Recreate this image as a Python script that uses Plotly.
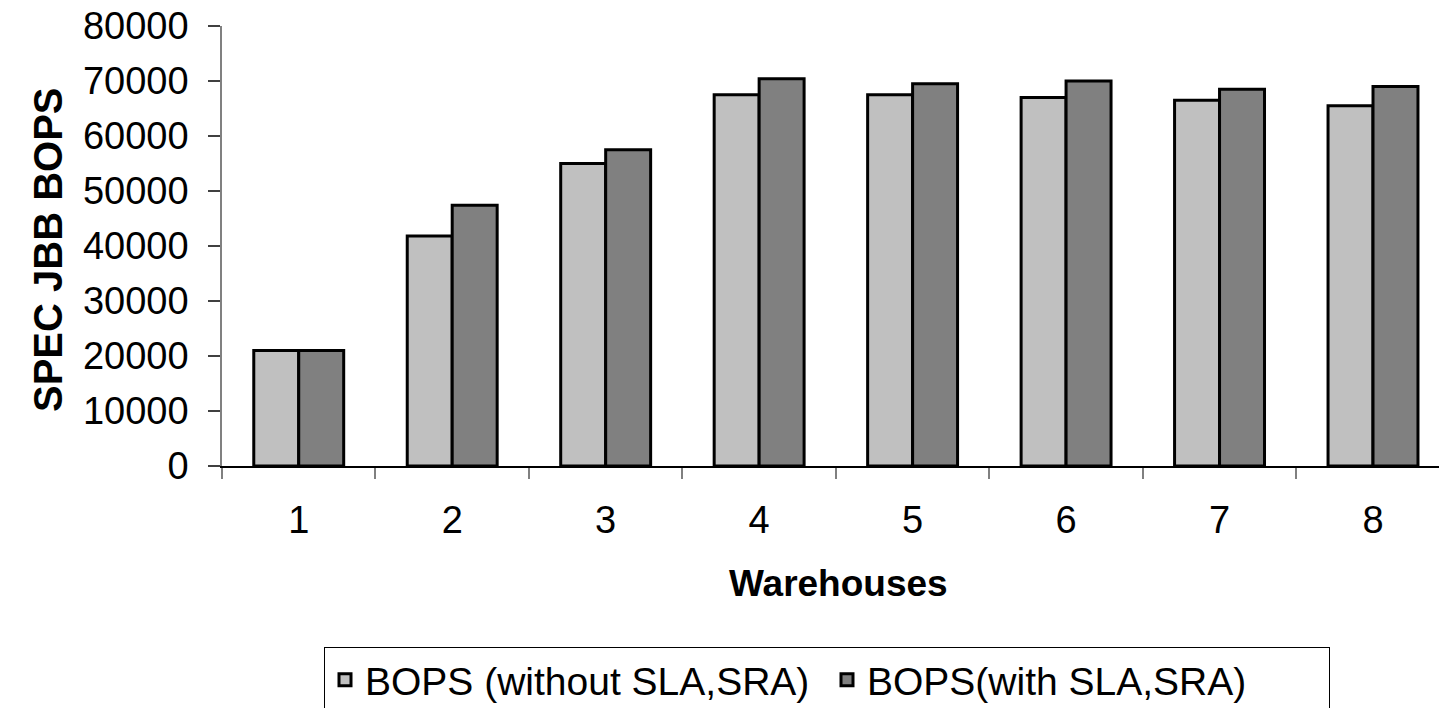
import plotly.graph_objects as go

categories = ["1", "2", "3", "4", "5", "6", "7", "8"]
bops_without = [21000, 41800, 55000, 67500, 67500, 67000, 66500, 65500]
bops_with = [21000, 47400, 57500, 70400, 69500, 70000, 68500, 69000]
y_ticks = [0, 10000, 20000, 30000, 40000, 50000, 60000, 70000, 80000]

W, H = 1439, 708
L, R, T, B = 222, 0, 26, 242
pw = W - L - R
ph = H - T - B

def px_x(x):
    return (x - L) / pw

def px_y(y):
    return (H - B - y) / ph

fig = go.Figure()
fig.add_trace(go.Bar(x=categories, y=bops_without, name="BOPS (without SLA,SRA)",
                     marker=dict(color="#C0C0C0", line=dict(color="black", width=3))))
fig.add_trace(go.Bar(x=categories, y=bops_with, name="BOPS(with SLA,SRA)",
                     marker=dict(color="#808080", line=dict(color="black", width=3))))

fig.update_layout(
    width=W, height=H,
    margin=dict(l=L, r=R, t=T, b=B, autoexpand=False),
    plot_bgcolor="white", paper_bgcolor="white",
    barmode="group", bargap=0.414, bargroupgap=0,
    font=dict(family="Liberation Sans, Arial", color="black"),
    showlegend=True,
    legend=dict(orientation="h", x=px_x(324), y=px_y(647), xanchor="left", yanchor="top",
                bordercolor="black", borderwidth=1, bgcolor="white",
                font=dict(size=39, family="Liberation Sans, Arial", color="black"),
                itemwidth=30, tracegroupgap=0, entrywidth=457, entrywidthmode="pixels"),
    xaxis=dict(type="category", range=[-0.5, 7.43], showgrid=False, showline=True,
               linecolor="black", linewidth=1.5, ticks="outside", tickson="boundaries",
               ticklen=11, tickcolor="#808080", tickwidth=1.5,
               tickfont=dict(size=38, family="Liberation Sans, Arial", color="black"),
               ticklabelstandoff=20),
    yaxis=dict(range=[0, 80000], tickvals=y_ticks, ticktext=[str(v) for v in y_ticks],
               showgrid=False, zeroline=False, showline=True, linecolor="#808080",
               linewidth=1.5, ticks="outside", ticklen=12, tickcolor="#404040", tickwidth=1.5,
               tickfont=dict(size=38, family="Liberation Sans, Arial", color="black"),
               ticklabelstandoff=12),
    annotations=[
        dict(text="<b>SPEC JBB BOPS</b>", xref="paper", yref="paper",
             x=px_x(48), y=px_y(250), textangle=-90, showarrow=False,
             xanchor="center", yanchor="middle",
             font=dict(size=40, family="Liberation Sans, Arial", color="black")),
        dict(text="<b>Warehouses</b>", xref="paper", yref="paper",
             x=px_x(838), y=px_y(583), showarrow=False,
             xanchor="center", yanchor="middle",
             font=dict(size=37, family="Liberation Sans, Arial", color="black")),
    ],
)

fig.write_html("out.html")
